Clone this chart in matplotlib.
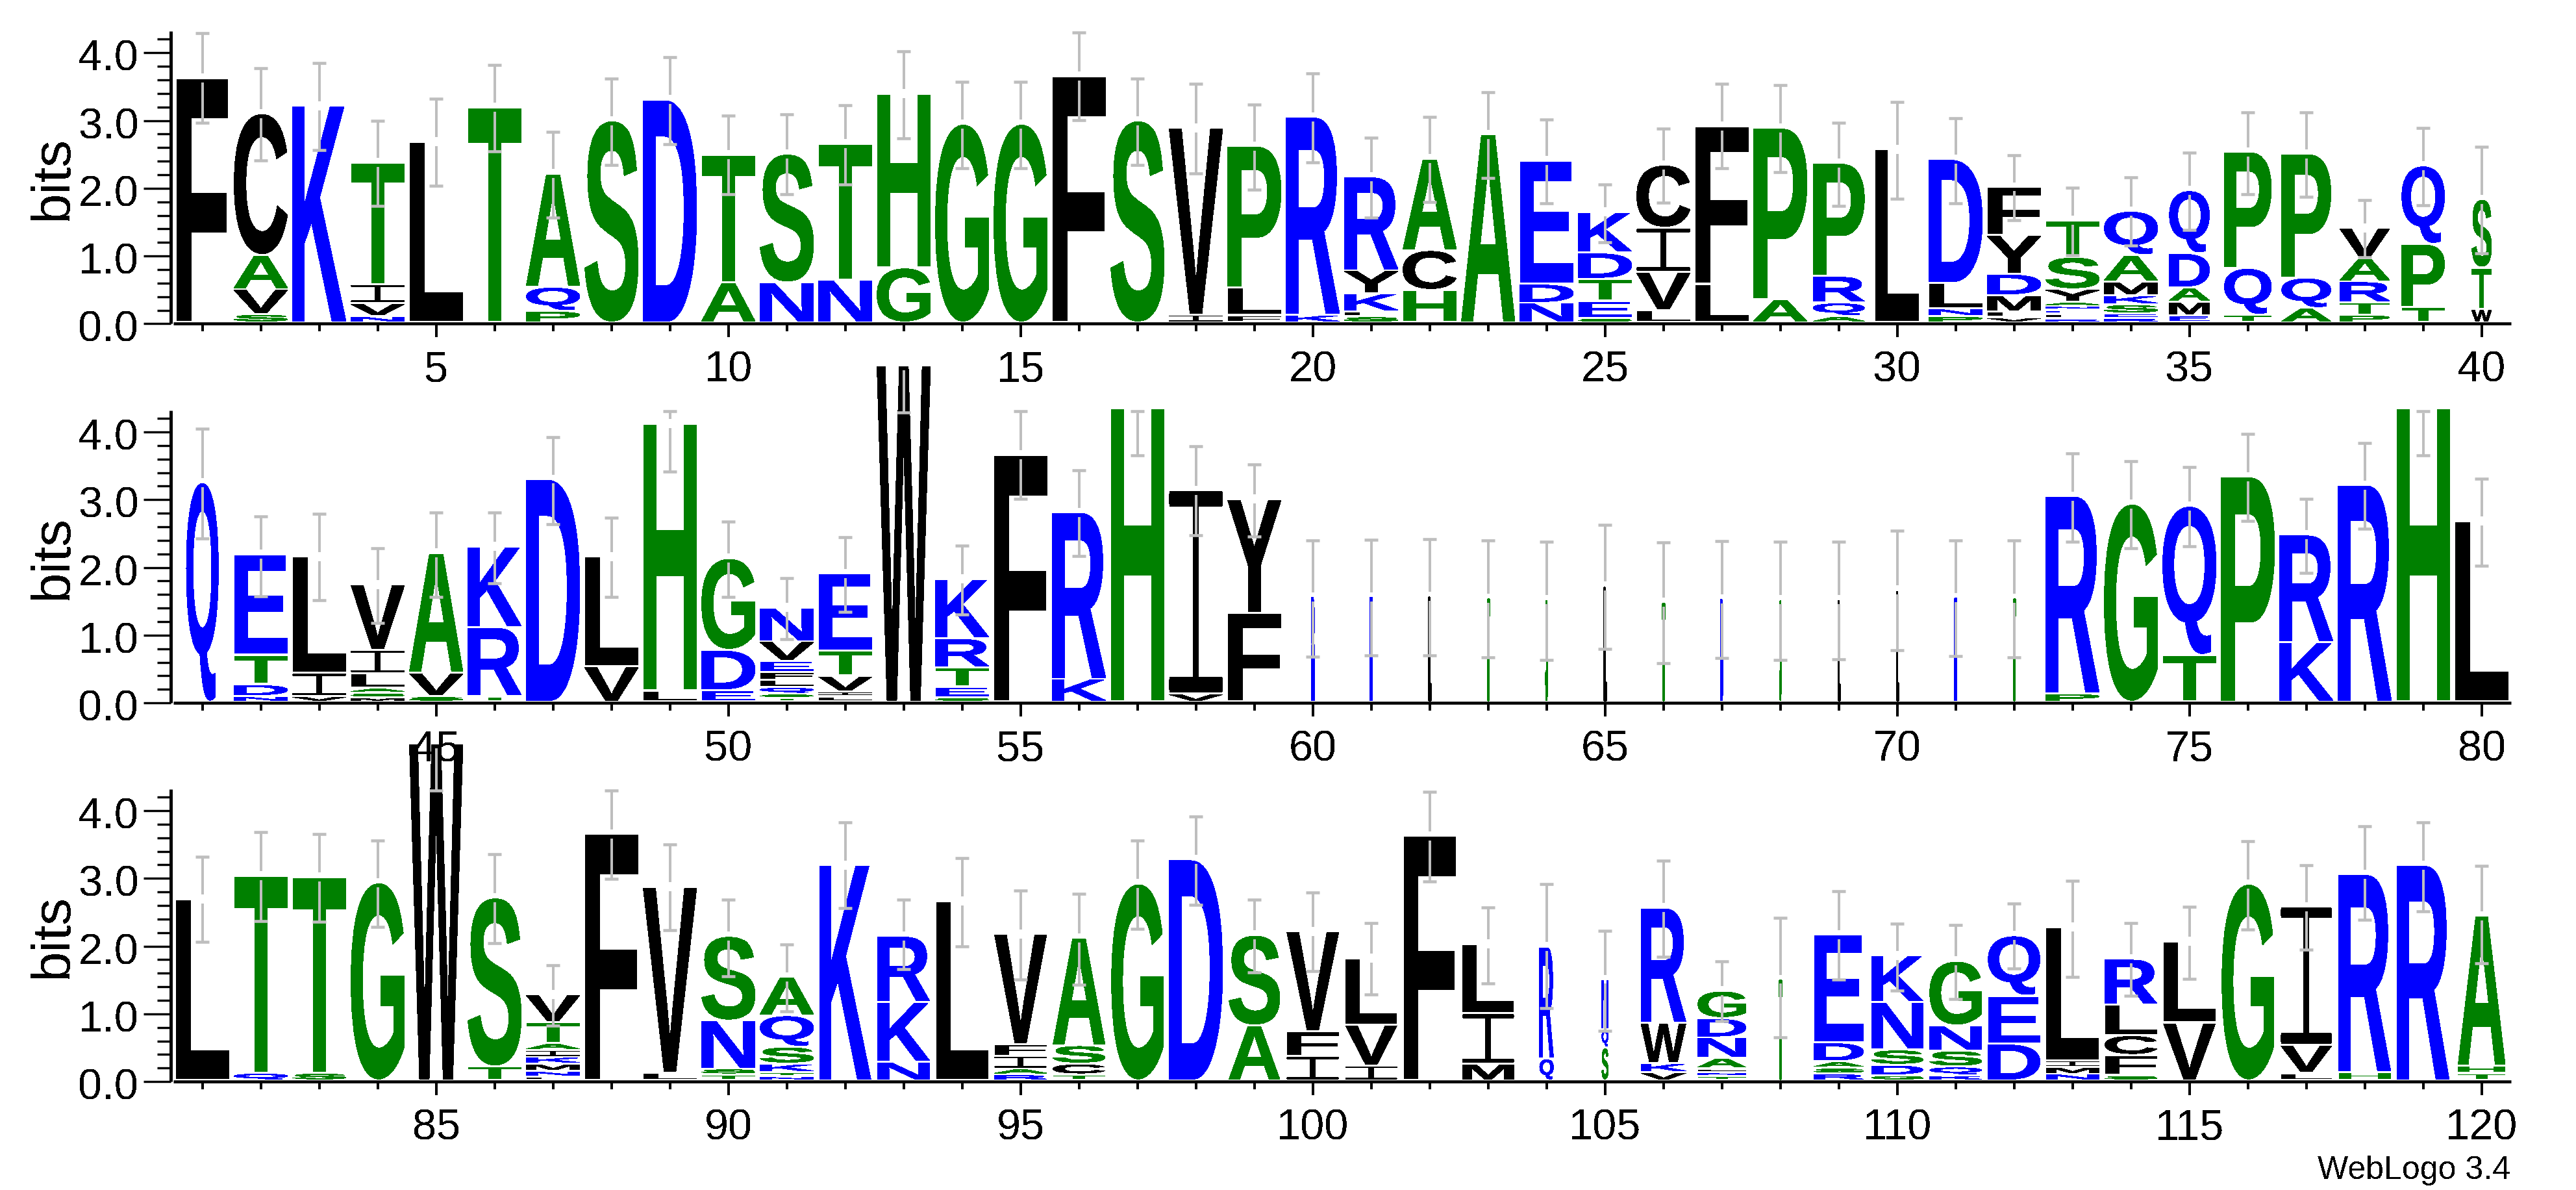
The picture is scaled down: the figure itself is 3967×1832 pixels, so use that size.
import matplotlib
matplotlib.use("Agg")
import matplotlib.pyplot as plt
from matplotlib.patches import PathPatch
from matplotlib.path import Path
from matplotlib.textpath import TextPath
from matplotlib.font_manager import FontProperties
from matplotlib.transforms import Affine2D, ScaledTranslation

# ---------- data: bits per letter, bottom to top of each stack ----------
stacks_1_40 = [
 [('F',3.61)],
 [('S',.125),('V',.367),('A',.503),('C',2.092)],
 [('K',3.20)],
 [('N',.095),('V',.19),('I',.28),('T',1.80)],
 [('L',2.67)],
 [('T',3.18)],
 [('P',.17),('Q',.356),('A',1.67)],
 [('S',2.98)],
 [('D',3.29)],
 [('A',.59),('T',1.89)],
 [('N',.59),('S',1.90)],
 [('N',.63),('T',2.01)],
 [('G',.81),('H',2.57)],
 [('G',2.93)],
 [('G',2.93)],
 [('F',3.64)],
 [('S',2.98)],
 [('I',.114),('V',2.76)],
 [('F',.106),('L',.41),('P',2.09)],
 [('K',.114),('R',2.92)],
 [('S',.09),('F',.077),('K',.264),('Y',.34),('R',1.38)],
 [('H',.48),('C',.587),('A',1.35)],
 [('A',2.78)],
 [('N',.29),('D',.28),('E',1.82)],
 [('S',.066),('E',.257),('T',.323),('D',.385),('K',.60)],
 [('L',.18),('V',.565),('I',.653),('C',.93)],
 [('L',.57),('F',2.33)],
 [('A',.34),('P',2.53)],
 [('A',.095),('Q',.20),('R',.39),('P',1.67)],
 [('L',2.56)],
 [('P',.095),('N',.11),('L',.378),('D',1.83)],
 [('V',.077),('L',.084),('M',.242),('D',.316),('Y',.569),('F',.716)],
 [('R',.059),('L',.066),('E',.062),('N',.055),('A',.066),('Y',.183),('S',.477),('T',.54)],
 [('R',.066),('E',.066),('S',.136),('K',.132),('M',.205),('A',.389),('Q',.653)],
 [('E',.103),('M',.205),('A',.209),('D',.506),('Q',.928)],
 [('T',.114),('Q',.69),('P',1.717)],
 [('A',.213),('Q',.448),('P',1.83)],
 [('P',.114),('T',.187),('R',.305),('A',.345),('V',.448)],
 [('T',.228),('P',.932),('Q',1.156)],
 [('W',.198),('T',.613),('S',1.01)],
]
stacks_41_80 = [
 [('Q',3.237)],
 [('N',.083),('D',.174),('T',.432),('E',1.49)],
 [('V',.083),('I',.341),('L',1.72)],
 [('M',.064),('S',.068),('A',.072),('L',.216),('I',.345),('V',.967)],
 [('S',.08),('V',.349),('A',1.766)],
 [('T',.08),('R',1.02),('K',1.19)],
 [('D',3.287)],
 [('V',.519),('L',1.626)],
 [('L',.163),('H',3.94)],
 [('E',.17),('D',.595),('G',1.353)],
 [('T',.057),('S',.06),('Q',.10),('L',.106),('F',.114),('E',.167),('V',.288),('N',.497)],
 [('L',.08),('I',.068),('V',.235),('T',.371),('E',1.141)],
 [('W',4.96)],
 [('S',.064),('E',.159),('T',.284),('R',.428),('K',.876)],
 [('F',3.643)],
 [('K',.337),('R',2.46)],
 [('H',4.33)],
 [('V',.121),('I',3.0)],
 [('F',1.31),('Y',1.68)],
 [('N',.85),('D',.70)],
 [('N',1.55)],
 [('L',1.56)],
 [('T',1.53)],
 [('S',1.51)],
 [('L',1.71)],
 [('T',1.47)],
 [('D',1.52)],
 [('S',1.51)],
 [('L',1.51)],
 [('L',1.65)],
 [('N',1.54)],
 [('T',1.53)],
 [('P',.121),('R',2.915)],
 [('G',2.92)],
 [('T',.69),('Q',2.20)],
 [('P',3.32)],
 [('K',.879),('R',1.585)],
 [('R',3.20)],
 [('H',4.33)],
 [('L',2.67)],
]
stacks_81_120 = [
 [('L',2.675)],
 [('Q',.11),('T',2.91)],
 [('S',.11),('T',2.89)],
 [('G',2.92)],
 [('W',4.97)],
 [('T',.207),('S',2.49)],
 [('L',.057),('N',.082),('M',.107),('K',.10),('I',.10),('A',.103),('T',.314),('V',.408)],
 [('F',3.64)],
 [('L',.116),('V',2.74)],
 [('T',.088),('S',.086),('N',.709),('S',1.247)],
 [('N',.058),('T',.064),('K',.125),('S',.249),('Q',.464),('A',.567)],
 [('K',3.18)],
 [('N',.273),('K',.881),('R',.976)],
 [('L',2.647)],
 [('R',.088),('A',.086),('I',.185),('F',.18),('V',1.62)],
 [('T',.088),('C',.159),('S',.271),('A',1.582)],
 [('G',2.904)],
 [('D',3.26)],
 [('A',.81),('S',1.337)],
 [('I',.359),('F',.365),('V',1.479)],
 [('I',.216),('V',.606),('L',.98)],
 [('F',3.61)],
 [('M',.246),('I',.744),('L',1.023)],
 [('Q',.325),('R',1.65)],
 [('S',.487),('Q',.267),('N',.74)],
 [('V',.123),('K',.129),('W',.598),('R',1.70)],
 [('T',.067),('N',.052),('L',.056),('A',.159),('N',.301),('D',.284),('G',.404)],
 [('T',1.494)],
 [('R',.10),('S',.086),('A',.095),('D',.279),('E',1.595)],
 [('G',.075),('D',.155),('S',.224),('N',.70),('K',.688)],
 [('K',.075),('Q',.129),('S',.236),('N',.37),('G',.954)],
 [('D',.54),('E',.709),('Q',.89)],
 [('N',.097),('M',.10),('I',.095),('L',1.97)],
 [('S',.075),('F',.30),('C',.292),('L',.451),('R',.675)],
 [('V',.853),('L',1.20)],
 [('G',2.90)],
 [('L',.11),('V',.417),('I',2.04)],
 [('H',.126),('R',2.915)],
 [('R',3.175)],
 [('T',.11),('H',.108),('A',2.214)],
]
err_high_1_40 = [4.25,3.73,3.81,2.96,3.28,3.78,2.79,3.58,3.90,3.03,3.05,3.19,3.985,3.53,3.53,4.26,3.58,3.50,3.20,3.66,
                 2.71,3.01,3.38,2.98,2.02,2.84,3.50,3.48,2.93,3.24,3.00,2.45,1.97,2.12,2.49,3.08,3.08,1.79,2.855,2.576]
err_low_1_40 = [2.93,2.37,2.53,1.70,2.00,2.51,1.53,2.31,2.61,1.87,1.87,2.02,2.70,2.26,2.26,2.97,2.31,2.18,1.94,2.345,
                1.53,1.76,2.11,1.74,1.16,1.75,2.26,2.20,1.70,1.81,1.74,1.49,.976,1.12,1.35,1.875,1.84,.94,1.71,1.00]
err_high_41_80 = [4.01,2.72,2.75,2.25,2.775,2.775,3.885,2.70,4.27,2.64,1.80,2.41,None,2.28,4.265,3.40,4.27,3.75,3.48,2.36,
                  2.37,2.38,2.36,2.34,2.59,2.335,2.35,2.34,2.34,2.50,2.36,2.36,3.65,3.53,3.446,3.935,2.97,3.80,4.27,3.27]
err_low_41_80 = [2.39,1.54,1.48,1.14,1.53,1.725,2.60,1.53,3.38,1.53,.90,1.31,4.25,1.27,2.97,2.13,3.62,2.44,2.42,.648,
                 .66,.667,.637,.60,.76,.553,.63,.60,.61,.74,.65,.637,2.34,2.25,2.27,2.65,1.88,2.53,3.62,1.99]
err_high_81_120 = [3.28,3.65,3.62,3.525,None,3.32,1.68,4.26,3.465,2.65,1.986,3.79,2.65,3.265,2.78,2.73,3.517,3.877,2.652,2.75,
                   2.30,4.243,2.53,2.874,2.19,3.22,1.737,2.376,2.77,2.29,2.27,2.59,2.93,2.30,2.545,3.51,3.155,3.73,3.79,3.15]
err_low_81_120 = [2.03,2.33,2.32,2.25,4.26,2.01,.79,2.96,2.20,1.52,1.00,2.52,1.62,1.956,1.466,1.39,2.214,2.567,1.574,1.59,
                  1.247,2.92,1.41,1.045,.71,1.80,.856,.62,1.47,1.31,1.18,1.63,1.51,1.234,1.475,2.21,1.91,2.35,2.48,1.71]
col_weight_1_40 = [.96,1,1,1,1,1,1,1,1,1,1,1,1,1,1,1,1,1,1,1,
                   1,1,1,1,1,1,1,1,.96,.81,1,1,1,1,.75,.88,.92,.93,.80,.37]
col_weight_41_80 = [.60,1,1,1,1,1,1,1,1,1,1,1,1,1,1,1,1,1,1,.05,
                    .04,.03,.025,.03,.03,.03,.04,.025,.025,.02,.03,.025,1,1,1,1,1,1,1,1]
col_weight_81_120 = [1,1,1,1,1,1,1,1,1,1,1,.96,.97,.97,.97,.97,.97,1,.95,.97,
                     .96,.97,.96,.26,.12,.84,.90,.03,.925,.96,.97,.97,.98,.97,.97,.97,.95,.97,.97,.88]
row_starts = [1, 41, 81]
row_stacks = [stacks_1_40, stacks_41_80, stacks_81_120]
row_err_high = [err_high_1_40, err_high_41_80, err_high_81_120]
row_err_low = [err_low_1_40, err_low_41_80, err_low_81_120]
row_weights = [col_weight_1_40, col_weight_41_80, col_weight_81_120]
y_ticks = [0, 1, 2, 3, 4]
y_tick_labels = ['0.0', '1.0', '2.0', '3.0', '4.0']
colors = {}
colors.update({c: 'green' for c in 'GSTAHP'})
colors.update({c: 'blue' for c in 'KRDENQ'})
colors.update({c: 'black' for c in 'FCVILMWY'})

# ---------- style ----------
W, H = 3967, 1833
PX = 72 / 100  # points per pixel at dpi 100
plt.rcParams['font.family'] = ['Liberation Sans', 'DejaVu Sans']
plt.rcParams['text.antialiased'] = False
fig = plt.figure(figsize=(W / 100, H / 100), dpi=100, facecolor='white')

bold = FontProperties(family='Liberation Sans', weight='bold')
glyphs = {c: TextPath((0, 0), c, size=1, prop=bold) for c in colors}

# the reference font's I is a thin stem between two slab bars
s0, s1, b = 0.45, 0.55, 0.075
c = 0.012
i_outline = [(c, 0), (1 - c, 0), (1, b / 3), (1, 2 * b / 3), (1 - c, b), (s1, b), (s1, 1 - b), (1 - c, 1 - b),
             (1, 1 - 2 * b / 3), (1, 1 - b / 3), (1 - c, 1), (c, 1), (0, 1 - b / 3), (0, 1 - 2 * b / 3),
             (c, 1 - b), (s0, 1 - b), (s0, b), (c, b), (0, 2 * b / 3), (0, b / 3), (c, 0)]
glyphs['I'] = Path(i_outline, closed=True)

BIT_PX = 104.3
YMAX = 4.32
LEFT, RIGHT = 266.7, 3866.7
baselines_px = [499.4, 1083.2, 1666.2]
STACK_W = 0.915
GAP = 0.036
BASE = 0.038
ERR_GAP = 0.067
GREY = '#BEBEBE'


def letter(ax, ch, xc, y0, y1, width):
    g = glyphs[ch]
    bb = g.get_extents()
    tr = (Affine2D().translate(-bb.x0, -bb.y0)
          .scale(width / bb.width, (y1 - y0) / bb.height)
          .translate(xc - width / 2, y0))
    # very narrow columns keep a hairline so their stems do not vanish
    thin = width < 0.1
    ax.add_patch(PathPatch(tr.transform_path(g), facecolor=colors[ch],
                           edgecolor=colors[ch] if thin else 'none',
                           linewidth=1.2 * PX if thin else 0,
                           clip_on=False, antialiased=False, zorder=3))


for start, stacks, hi, lo, wts, bl in zip(row_starts, row_stacks, row_err_high, row_err_low,
                                           row_weights, baselines_px):
    bottom = 1 - bl / H
    ax = fig.add_axes([LEFT / W, bottom, (RIGHT - LEFT) / W, YMAX * BIT_PX / H])
    ax.patch.set_alpha(0)
    ax.set_xlim(start - 0.5, start + 39.5)
    ax.set_ylim(0, YMAX)
    for i, stack in enumerate(stacks):
        x = start + i
        cum = BASE
        for ch, h in stack:
            y1 = cum + h - GAP
            letter(ax, ch, x, cum, max(y1, cum + 0.008), STACK_W * wts[i])
            cum += h
        centre = cum - 0.02
        kw = dict(color=GREY, zorder=4, clip_on=False, solid_capstyle='butt')
        low = lo[i] + BASE
        ax.plot([x, x], [low, centre - ERR_GAP], lw=4 * PX, **kw)
        ax.plot([x - 0.117, x + 0.117], [low, low], lw=4.6 * PX, **kw)
        if hi[i] is not None:
            high = hi[i] + BASE
            if high > centre + ERR_GAP:
                ax.plot([x, x], [centre + ERR_GAP, high], lw=4 * PX, **kw)
            ax.plot([x - 0.117, x + 0.117], [high, high], lw=4.6 * PX, **kw)

    for s in ('top', 'right'):
        ax.spines[s].set_visible(False)
    ax.spines['bottom'].set_linewidth(4.6 * PX)
    ax.spines['bottom'].set_capstyle('butt')
    ax.spines['left'].set_linewidth(5 * PX)
    ax.spines['left'].set_capstyle('butt')
    ax.spines['left'].set_position(('outward', 4 * PX))
    xs = list(range(start, start + 40))
    ax.set_xticks([v for v in xs if v % 5 == 0])
    ax.set_xticks([v for v in xs if v % 5 != 0], minor=True)
    ax.set_yticks(y_ticks)
    ax.set_yticklabels(y_tick_labels)
    ax.set_yticks([v / 5 for v in range(0, 22) if v % 5 != 0], minor=True)
    ax.tick_params(axis='x', which='major', length=21 * PX, width=4 * PX, labelsize=48, pad=19 * PX)
    ax.tick_params(axis='x', which='minor', length=12 * PX, width=4 * PX)
    ax.tick_params(axis='y', which='major', length=42 * PX, width=3.4 * PX, labelsize=48, pad=7 * PX)
    ax.tick_params(axis='y', which='minor', length=21 * PX, width=3.4 * PX)
    shift = ScaledTranslation(0, -2.5 / 100, fig.dpi_scale_trans)
    for lbl in ax.get_yticklabels():
        lbl.set_transform(lbl.get_transform() + shift)
    ax.set_ylabel('bits', fontsize=60)
    ax.yaxis.set_label_coords((121 - LEFT) / (RIGHT - LEFT), 0.5)

fig.text(3866 / W, 1 - 1815 / H, 'WebLogo 3.4', fontsize=36, ha='right', va='baseline')
fig.savefig('out.png', dpi=100, facecolor='white')
